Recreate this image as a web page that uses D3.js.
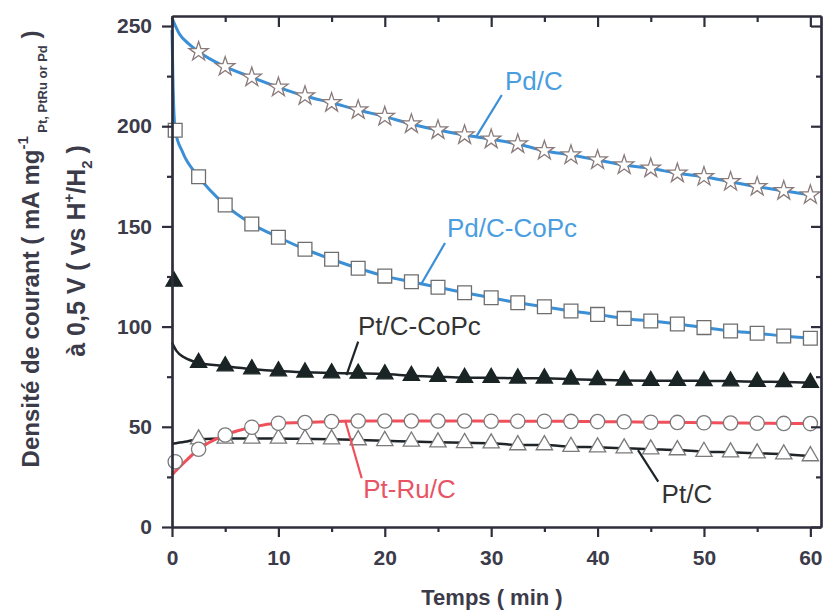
<!DOCTYPE html>
<html><head><meta charset="utf-8">
<script src="https://cdn.jsdelivr.net/npm/d3@7"></script>
<style>body{margin:0;background:#fff}svg{display:block}</style>
</head><body>
<svg id="c" width="826" height="610"></svg>
<script>
// ---- data ----
const markerTimes = [2.5,5,7.5,10,12.5,15,17.5,20,22.5,25,27.5,30,32.5,35,37.5,40,42.5,45,47.5,50,52.5,55,57.5,60];

const pdC      = [237.2,229.7,224.4,219.4,215.1,211.7,208.1,204.8,201.1,198.1,195.6,193.5,191.1,187.8,185.6,183.1,180.6,179.0,176.5,174.8,172.3,169.8,167.8,165.7];
const pdCHeadT = [0,0.7,1.6];
const pdCHeadV = [254,246,241];

const pdCoPc      = [174.8,160.7,151.2,144.6,138.6,133.6,129.1,125.2,122.4,119.6,116.9,114.4,111.9,109.9,107.8,106.1,104.1,102.8,101.3,99.5,97.8,96.7,95.3,94.2];
const pdCoPcHeadT = [0,0.08,0.3,1];
const pdCoPcHeadV = [248,225,198,187];
const pdCoPcExtraT = [0.3];
const pdCoPcExtraV = [198];

const ptCoPc      = [82.0,80.3,78.8,77.8,77.2,76.8,76.6,76.3,75.5,75.0,74.5,74.5,74.2,74.2,73.7,73.4,73.1,73.0,73.0,72.9,72.8,72.5,72.4,72.0];
const ptCoPcHeadT = [0,0.4,1.2];
const ptCoPcHeadV = [92,88,84.5];
const ptCoPcExtraT = [0.2];
const ptCoPcExtraV = [122.5];

const ptRu      = [38.8,45.9,49.8,51.8,52.1,52.6,52.9,52.9,52.9,52.9,52.9,52.8,52.8,52.8,52.7,52.6,52.5,52.3,52.2,52.0,51.9,51.8,51.7,51.6];
const ptRuHeadT = [0,0.5,1.3];
const ptRuHeadV = [26,28.8,33];
const ptRuExtraT = [0.3];
const ptRuExtraV = [32.6];

const ptC      = [43.8,44.2,44.2,44.2,44.0,43.8,43.4,43.0,42.7,42.3,42.0,41.8,40.9,40.9,40.1,39.8,39.3,38.8,38.4,37.6,37.3,36.8,36.3,35.4];
const ptCHeadT = [0,1.2];
const ptCHeadV = [41.5,42.5];

const xTicks = [0,10,20,30,40,50,60];
const xMinor = [5,15,25,35,45,55];
const yTicks = [0,50,100,150,200,250];
const yMinor = [25,75,125,175,225];

// ---- setup ----
const svg = d3.select("#c");
const x = d3.scaleLinear().domain([0,61]).range([172,821]);
const y = d3.scaleLinear().domain([0,255]).range([527,16]);
const axisCol = "#2e2e3c";
const tickFont = "Liberation Sans, Arial, sans-serif";

const zip = (t,v) => t.map((d,i)=>[d,v[i]]);

const BLUE = "#3a8fd6", RED = "#f0505c", BLACK = "#1e2428";

const series = [
  {name:"Pt/C", line: zip(ptCHeadT.concat(markerTimes), ptCHeadV.concat(ptC)),
   marks: zip(markerTimes, ptC), color: BLACK, sym: d3.symbolTriangle, size:115, fill:"#fff", mstroke:"#7a7a7a", lw:2.5},
  {name:"Pt-Ru/C", line: zip(ptRuHeadT.concat(markerTimes), ptRuHeadV.concat(ptRu)),
   marks: zip(ptRuExtraT.concat(markerTimes), ptRuExtraV.concat(ptRu)), color: RED, sym: d3.symbolCircle, size:160, fill:"#fff", mstroke:"#7a7a7a", lw:3},
  {name:"Pt/C-CoPc", line: zip(ptCoPcHeadT.concat(markerTimes), ptCoPcHeadV.concat(ptCoPc)),
   marks: zip(ptCoPcExtraT.concat(markerTimes), ptCoPcExtraV.concat(ptCoPc)), color: BLACK, sym: d3.symbolTriangle, size:115, fill:"#1a2424", mstroke:"#1a2424", lw:2.5},
  {name:"Pd/C-CoPc", line: zip(pdCoPcHeadT.concat(markerTimes), pdCoPcHeadV.concat(pdCoPc)),
   marks: zip(pdCoPcExtraT.concat(markerTimes), pdCoPcExtraV.concat(pdCoPc)), color: BLUE, sym: d3.symbolSquare, size:190, fill:"#fff", mstroke:"#6e6e6e", lw:3},
  {name:"Pd/C", line: zip(pdCHeadT.concat(markerTimes), pdCHeadV.concat(pdC)),
   marks: zip(markerTimes, pdC), color: BLUE, sym: d3.symbolStar, size:115, fill:"#fff", mstroke:"#8a7a7a", lw:3}
];

const line = d3.line().x(d=>x(d[0])).y(d=>y(d[1])).curve(d3.curveMonotoneX);

const plot = svg.append("g");
series.forEach(s=>{
  plot.append("path").datum(s.line).attr("d",line)
    .attr("fill","none").attr("stroke",s.color).attr("stroke-width",s.lw).attr("stroke-linejoin","round");
  plot.selectAll(null).data(s.marks).enter().append("path")
    .attr("d", d3.symbol().type(s.sym).size(s.size))
    .attr("transform", d=>`translate(${x(d[0])},${y(d[1])})`)
    .attr("fill", s.fill).attr("stroke", s.mstroke).attr("stroke-width",1.3);
});

// ---- axes ----
const ax = svg.append("g").attr("font-family",tickFont);
function styleAxis(g){
  g.select(".domain").attr("stroke",axisCol).attr("stroke-width",2.2);
  g.selectAll(".tick line").attr("stroke",axisCol).attr("stroke-width",2.2);
  g.selectAll(".tick text").attr("fill","#3b3b4a").attr("font-size",21).attr("font-weight","bold");
}
// bottom
ax.append("g").attr("transform","translate(0,527)")
  .call(d3.axisBottom(x).tickValues(xTicks).tickSize(10).tickSizeOuter(0).tickPadding(13).tickFormat(d3.format("d")))
  .call(styleAxis);
ax.append("g").attr("transform","translate(0,527)")
  .call(d3.axisBottom(x).tickValues(xMinor).tickSize(5).tickSizeOuter(0).tickFormat(""))
  .call(styleAxis);
// top (inward)
ax.append("g").attr("transform","translate(0,16)")
  .call(d3.axisBottom(x).tickValues(xTicks).tickSize(11).tickSizeOuter(0).tickFormat(""))
  .call(styleAxis);
ax.append("g").attr("transform","translate(0,16)")
  .call(d3.axisBottom(x).tickValues(xMinor).tickSize(6).tickSizeOuter(0).tickFormat(""))
  .call(styleAxis);
// left
ax.append("g").attr("transform","translate(172,0)")
  .call(d3.axisLeft(y).tickValues(yTicks).tickSize(10).tickSizeOuter(0).tickPadding(10))
  .call(styleAxis);
ax.append("g").attr("transform","translate(172,0)")
  .call(d3.axisLeft(y).tickValues(yMinor).tickSize(5).tickSizeOuter(0).tickFormat(""))
  .call(styleAxis);
// right (inward)
ax.append("g").attr("transform","translate(821,0)")
  .call(d3.axisLeft(y).tickValues(yTicks).tickSize(10).tickSizeOuter(0).tickFormat(""))
  .call(styleAxis);
ax.append("g").attr("transform","translate(821,0)")
  .call(d3.axisLeft(y).tickValues(yMinor).tickSize(5).tickSizeOuter(0).tickFormat(""))
  .call(styleAxis);

// ---- annotations ----
const ann = svg.append("g").attr("font-family",tickFont).attr("font-size",26);
function label(txt, tx, ty, col, l0, l1, lcol){
  ann.append("line").attr("x1",x(l0[0])).attr("y1",y(l0[1])).attr("x2",x(l1[0])).attr("y2",y(l1[1]))
    .attr("stroke",lcol).attr("stroke-width",2.2);
  ann.append("text").attr("x",x(tx)).attr("y",y(ty)).attr("fill",col).text(txt);
}
label("Pd/C", 31.3, 218, "#4a9ee0", [31.0,215.6],[28.6,194.8], BLUE);
label("Pd/C-CoPc", 25.85, 144.7, "#4a9ee0", [25.66,141.7],[23.47,121.6], BLUE);
label("Pt/C-CoPc", 17.48, 95.8, "#333", [17.5,92.5],[16.4,75.8], BLACK);
label("Pt-Ru/C", 17.98, 14.3, "#e85466", [16.26,53.4],[17.83,24.3], RED);
label("Pt/C", 46.02, 12.0, "#333", [43.8,38.4],[45.7,22.6], BLACK);

// ---- axis titles ----
svg.append("text").attr("x",492).attr("y",605).attr("text-anchor","middle")
  .attr("font-family",tickFont).attr("font-weight","bold").attr("font-size",22).attr("fill","#3b3b4a")
  .text("Temps ( min )");

const yt = svg.append("g").attr("font-family",tickFont).attr("font-weight","bold").attr("fill","#3b3b4a");
const t1 = yt.append("text").attr("transform","translate(39,249) rotate(-90)").attr("text-anchor","middle").attr("font-size",24);
t1.append("tspan").text("Densité de courant ( mA mg");
t1.append("tspan").attr("font-size",15).attr("dy",-11).text("-1");
t1.append("tspan").attr("font-size",13).attr("dy",19).text(" Pt, PtRu or Pd");
t1.append("tspan").attr("dy",-8).text(" )");
const t2 = yt.append("text").attr("transform","translate(85,251) rotate(-90)").attr("text-anchor","middle").attr("font-size",25);
t2.append("tspan").text("à 0,5 V ( vs H");
t2.append("tspan").attr("font-size",15).attr("dy",-11).text("+");
t2.append("tspan").attr("dy",11).text("/H");
t2.append("tspan").attr("font-size",15).attr("dy",7).text("2");
t2.append("tspan").attr("dy",-7).text(" )");
</script>
</body></html>
